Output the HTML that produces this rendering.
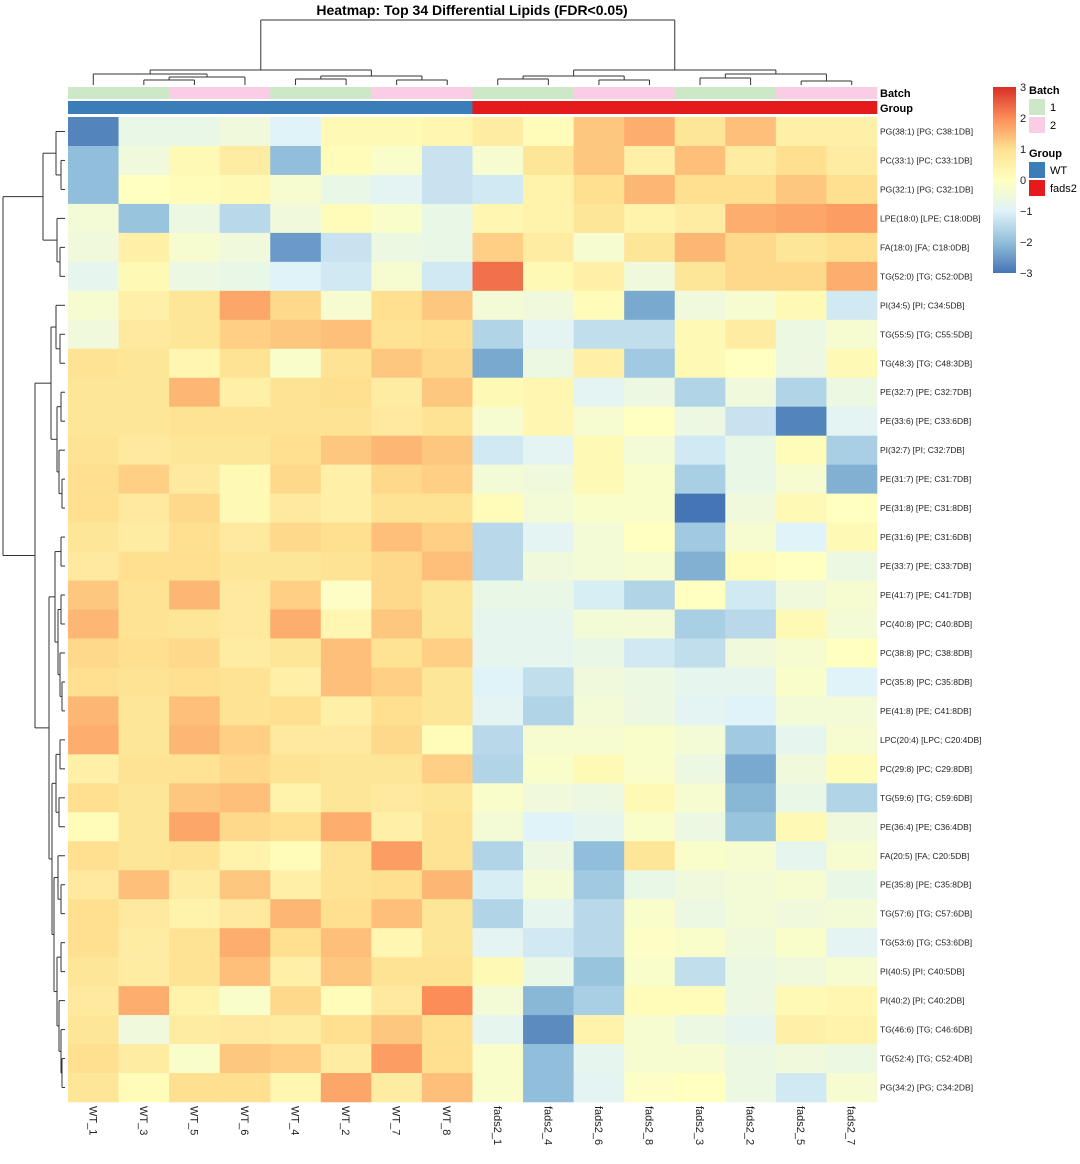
<!DOCTYPE html>
<html><head><meta charset="utf-8"><style>
body{margin:0;background:#fff;width:1080px;height:1159px;overflow:hidden;font-family:"Liberation Sans",sans-serif}
svg text{font-family:"Liberation Sans",sans-serif}
</style></head><body>
<svg id="chart" width="1080" height="1159" xmlns="http://www.w3.org/2000/svg">
<text x="472" y="15" text-anchor="middle" font-size="14" font-weight="bold">Heatmap: Top 34 Differential Lipids (FDR&lt;0.05)</text>
</svg>
<script>
const columns=["WT_1","WT_3","WT_5","WT_6","WT_4","WT_2","WT_7","WT_8","fads2_1","fads2_4","fads2_6","fads2_8","fads2_3","fads2_2","fads2_5","fads2_7"];
const batch=[1,1,2,2,1,1,2,2,1,1,2,2,1,1,2,2];
const group=["WT","WT","WT","WT","WT","WT","WT","WT","fads2","fads2","fads2","fads2","fads2","fads2","fads2","fads2"];
const rows=["PG(38:1) [PG; C38:1DB]","PC(33:1) [PC; C33:1DB]","PG(32:1) [PG; C32:1DB]","LPE(18:0) [LPE; C18:0DB]","FA(18:0) [FA; C18:0DB]","TG(52:0) [TG; C52:0DB]","PI(34:5) [PI; C34:5DB]","TG(55:5) [TG; C55:5DB]","TG(48:3) [TG; C48:3DB]","PE(32:7) [PE; C32:7DB]","PE(33:6) [PE; C33:6DB]","PI(32:7) [PI; C32:7DB]","PE(31:7) [PE; C31:7DB]","PE(31:8) [PE; C31:8DB]","PE(31:6) [PE; C31:6DB]","PE(33:7) [PE; C33:7DB]","PE(41:7) [PE; C41:7DB]","PC(40:8) [PC; C40:8DB]","PC(38:8) [PC; C38:8DB]","PC(35:8) [PC; C35:8DB]","PE(41:8) [PE; C41:8DB]","LPC(20:4) [LPC; C20:4DB]","PC(29:8) [PC; C29:8DB]","TG(59:6) [TG; C59:6DB]","PE(36:4) [PE; C36:4DB]","FA(20:5) [FA; C20:5DB]","PE(35:8) [PE; C35:8DB]","TG(57:6) [TG; C57:6DB]","TG(53:6) [TG; C53:6DB]","PI(40:5) [PI; C40:5DB]","PI(40:2) [PI; C40:2DB]","TG(46:6) [TG; C46:6DB]","TG(52:4) [TG; C52:4DB]","PG(34:2) [PG; C34:2DB]"];
const values=[
[-2.8,-0.7,-0.7,-0.5,-1,0.2,0.2,0.3,0.6,0.1,1.3,1.6,0.8,1.4,0.5,0.5],
[-2,-0.5,0.2,0.6,-2,0.1,-0.2,-1.3,-0.3,0.8,1.3,0.5,1.4,0.6,1.0,0.6],
[-2,0,0.1,0.2,-0.3,-0.7,-0.9,-1.3,-1.2,0.4,1.0,1.5,1.0,1.0,1.3,1.0],
[-0.4,-1.9,-0.6,-1.5,-0.5,0.1,-0.2,-0.7,0.3,0.4,0.8,0.4,0.6,1.6,1.7,1.8],
[-0.5,0.5,-0.3,-0.5,-2.5,-1.3,-0.6,-0.7,1.2,0.6,-0.3,0.8,1.5,1.1,0.8,1.0],
[-0.8,0.2,-0.6,-0.7,-1,-1.2,-0.3,-1.2,2.3,0.2,0.5,-0.5,0.8,1.1,1.1,1.6],
[-0.3,0.5,0.8,1.7,1.1,-0.3,1,1.3,-0.4,-0.5,0.1,-2.3,-0.5,-0.3,0.2,-1.2],
[-0.5,0.7,0.8,1.2,1.3,1.4,0.9,1,-1.6,-0.9,-1.4,-1.4,0.2,0.6,-0.6,-0.3],
[0.9,0.8,0.3,0.9,-0.2,0.9,1.3,1.1,-2.3,-0.6,0.5,-1.8,0.2,0,-0.6,0.2],
[0.8,0.8,1.5,0.5,0.9,1,0.6,1.3,0.2,0.3,-0.9,-0.6,-1.6,-0.5,-1.6,-0.6],
[0.8,0.8,0.9,0.9,0.9,0.9,0.7,0.9,-0.3,0.3,-0.3,0,-0.6,-1.3,-2.8,-0.9],
[0.9,0.7,0.8,0.8,1,1.3,1.5,1.3,-1.2,-0.9,0.2,-0.4,-1.2,-0.7,0.1,-1.7],
[1,1.2,0.7,0.2,1.1,0.5,1.1,1.2,-0.4,-0.5,0.2,-0.2,-1.7,-0.7,-0.3,-2.2],
[1,0.7,1.1,0.2,0.7,0.5,0.9,0.9,0.1,-0.4,-0.2,-0.2,-3,-0.5,0.2,0],
[0.8,0.6,1,0.7,1.1,1,1.4,1.2,-1.5,-0.9,-0.4,0,-1.8,-0.3,-1,0.2],
[0.7,1,1,0.8,0.8,0.9,1.1,1.4,-1.5,-0.5,-0.4,-0.3,-2.2,0.1,0,-0.6],
[1.3,0.9,1.5,0.7,1.2,-0.1,1.1,0.8,-0.7,-0.7,-1.1,-1.6,0,-1.2,-0.5,-0.3],
[1.5,0.9,0.8,0.7,1.6,0.3,1.3,0.8,-0.8,-0.8,-0.4,-0.4,-1.7,-1.5,0.2,-0.4],
[1.1,1,1.1,0.6,0.8,1.4,0.9,1.2,-0.8,-0.8,-0.7,-1.2,-1.4,-0.5,-0.3,0],
[1,0.9,1,0.9,0.5,1.4,1.2,0.8,-1,-1.4,-0.5,-0.6,-0.8,-0.8,-0.2,-1],
[1.5,0.8,1.4,0.9,1,0.5,1,0.8,-0.9,-1.6,-0.4,-0.6,-0.9,-1,-0.4,-0.4],
[1.6,0.8,1.5,1.2,0.7,0.7,1.1,0.1,-1.5,-0.3,-0.3,-0.2,-0.4,-1.8,-0.8,-0.3],
[0.5,0.9,0.9,1.1,0.9,0.8,0.8,1.2,-1.6,-0.2,0.2,-0.2,-0.6,-2.3,-0.5,0.1],
[1,0.8,1.3,1.4,0.4,0.8,0.7,0.8,-0.2,-0.5,-0.6,0.2,-0.3,-2.1,-0.7,-1.6],
[0.1,0.8,1.7,1.1,1,1.6,0.5,0.9,-0.4,-1,-0.8,-0.2,-0.6,-1.9,0.2,-0.5],
[1,0.8,0.9,0.4,0.1,0.9,1.8,0.9,-1.6,-0.6,-2,0.8,-0.2,-0.3,-0.8,-0.3],
[0.7,1.4,0.6,1.3,0.5,0.9,1,1.5,-1.1,-0.4,-1.8,-0.7,-0.5,-0.4,-0.3,-0.7],
[1,0.7,0.4,0.7,1.5,1,1.4,0.8,-1.6,-0.8,-1.5,-0.2,-0.6,-0.4,-0.5,-0.4],
[1,0.6,0.9,1.6,1,1.4,0.3,0.8,-0.9,-1.2,-1.5,-0.1,-0.2,-0.5,-0.2,-0.9],
[0.8,0.6,0.9,1.4,0.5,1.3,0.9,0.9,0.2,-0.7,-1.9,-0.2,-1.4,-0.6,-0.5,-0.3],
[0.7,1.6,0.4,-0.2,1.1,0.1,0.7,2,-0.4,-2.1,-1.7,0.1,0.1,-0.6,0.2,0.3],
[0.8,-0.5,0.6,0.7,0.6,1,1.3,1,-0.8,-2.7,0.4,-0.3,-0.6,-0.8,0.5,0.4],
[1,0.6,-0.2,1.3,1.2,0.6,1.8,1,-0.2,-2,-0.8,-0.3,-0.3,-0.6,-0.5,-0.6],
[0.8,0.1,1,1,0.3,1.7,0.6,1.4,-0.2,-2,-0.9,-0.1,0,-0.6,-1.2,-0.3]
];
const scaleTicks=[3,2,1,0,-1,-2,-3];
const colTree=[[[0,[[1,2,5],3,8],11],[[4,5,6],[6,7,5],9],15],[[[8,9,6],[10,11,5],9],[[12,13,7],[14,15,4],11],15],65];
const rowTree=[[[0,[1,2,4],9],[3,[4,5,5],8],22],[[[6,[7,8,5],9],[[9,10,4],[11,[12,13,3],6],8],14],[[[14,15,4],[[16,17,4],[18,[19,20,3],5],7],10],[[[21,22,5],[23,24,6],9],[[25,[26,27,4],7],[[28,29,4],[30,[31,[32,33,3],4],6],8],11],13],16],30],62];

const svg=document.getElementById('chart');
const NS="http://www.w3.org/2000/svg";
function mk(t,a,p){const e=document.createElementNS(NS,t);for(const k in a)e.setAttribute(k,a[k]);(p||svg).appendChild(e);return e;}
const X0=68,X1=877,Y0=117,Y1=1102;
const cw=(X1-X0)/columns.length, rh=(Y1-Y0)/rows.length;
const xPos=i=>X0+i*cw, yPos=j=>Y0+j*rh;
const pal=["#4575B4","#91BFDB","#E0F3F8","#FFFFBF","#FEE090","#FC8D59","#D73027"];
function hex(h){return [1,3,5].map(i=>parseInt(h.substr(i,2),16));}
function color(v){let t=(Math.max(-3,Math.min(3,v))+3);let i=Math.min(5,Math.floor(t));let f=t-i;const a=hex(pal[i]),b=hex(pal[i+1]);return "rgb("+a.map((c,k)=>Math.round(c+(b[k]-c)*f)).join(",")+")";}
const gCells=mk('g',{});


values.forEach((row,j)=>row.forEach((v,i)=>{
  const r=mk('rect',{x:xPos(i),y:yPos(j),width:cw+0.3,height:rh+0.3,fill:color(v)},gCells);
  
  
}));
const bcol={1:"#CCE8C7",2:"#FBCDE5"}, gcol={WT:"#3A7DB8",fads2:"#E41A1C"};
columns.forEach((c,i)=>{
  const b=mk('rect',{x:xPos(i),y:87,width:cw+0.3,height:12,fill:bcol[batch[i]]});
  
  
  const g=mk('rect',{x:xPos(i),y:101,width:cw+0.3,height:13,fill:gcol[group[i]]});
  
  
  const t=mk('text',{x:0,y:0,'font-size':11,fill:'#222',transform:`translate(${xPos(i)+cw/2-4},1106) rotate(90)`});
  t.textContent=c;
  
  
});
let at=mk('text',{x:880,y:97,'font-size':11,'font-weight':'bold'});at.textContent="Batch";


at=mk('text',{x:880,y:112,'font-size':11,'font-weight':'bold'});at.textContent="Group";


rows.forEach((r,j)=>{
  const t=mk('text',{x:880,y:yPos(j)+rh/2+3,'font-size':8.5,fill:'#222'});
  t.textContent=r;
  
  
});
// dendrograms
const dg=mk('g',{stroke:'#333','stroke-width':1,fill:'none'});


function line(x1,y1,x2,y2){mk('line',{x1,y1,x2,y2},dg);}
const colMax=colTree[2], rowMax=rowTree[2];
const cy=h=>85-h*(65/colMax);
function drawCol(n){if(typeof n==='number')return {p:xPos(n)+cw/2,h:0};const a=drawCol(n[0]),b=drawCol(n[1]);const y=cy(n[2]);line(a.p,cy(a.h),a.p,y);line(b.p,cy(b.h),b.p,y);line(a.p,y,b.p,y);return {p:(a.p+b.p)/2,h:n[2]};}
drawCol(colTree);
const rx=h=>65-h*(62/rowMax);
function drawRow(n){if(typeof n==='number')return {p:yPos(n)+rh/2,h:0};const a=drawRow(n[0]),b=drawRow(n[1]);const x=rx(n[2]);line(rx(a.h),a.p,x,a.p);line(rx(b.h),b.p,x,b.p);line(x,a.p,x,b.p);return {p:(a.p+b.p)/2,h:n[2]};}
drawRow(rowTree);
// color scale legend
const defs=mk('defs',{});
const lg=mk('linearGradient',{id:'cg',x1:0,y1:0,x2:0,y2:1},defs);
pal.slice().reverse().forEach((c,k)=>mk('stop',{offset:(k/6),'stop-color':c},lg));
const sb=mk('rect',{x:993,y:87,width:23,height:186,fill:'url(#cg)'});


scaleTicks.forEach(v=>{
  const y=87+(3-v)/6*186;
  const t=mk('text',{x:1020,y:y+4,'font-size':11,fill:'#222',}); t.textContent=(v<0?"\u2212":"")+Math.abs(v);
  
  
});
function legText(x,y,s,b,name){const t=mk('text',{x,y,'font-size':b?11:11,'font-weight':b?'bold':'normal'});t.textContent=s;}
legText(1029,94,"Batch",true,'batch-legend-title');
[[1,99],[2,117]].forEach(([b,y])=>{const r=mk('rect',{x:1029,y,width:16,height:16,fill:bcol[b]});legText(1050,y+12,String(b),false,'batch-legend-label');});
legText(1029,157,"Group",true,'group-legend-title');
[["WT",162],["fads2",180]].forEach(([g,y])=>{const r=mk('rect',{x:1029,y,width:16,height:16,fill:gcol[g]});legText(1050,y+12,g,false,'group-legend-label');});
</script>
</body></html>
